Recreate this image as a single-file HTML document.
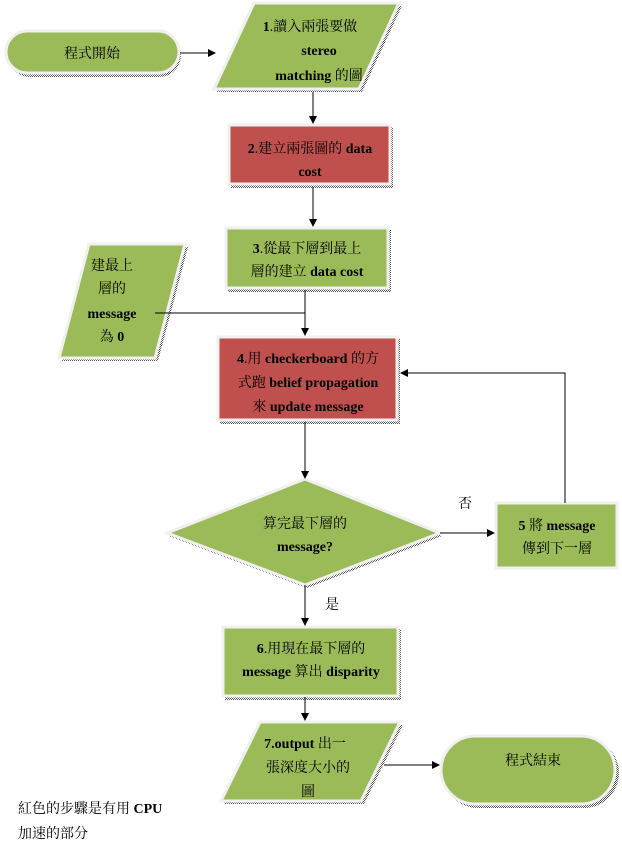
<!DOCTYPE html>
<html><head><meta charset="utf-8"><style>
body{margin:0;background:#fff;width:622px;height:859px;overflow:hidden}
svg{display:block}
text{font-family:"Liberation Serif","Noto Serif CJK SC","Noto Sans CJK TC",serif;font-size:14px;fill:#000;text-anchor:middle}
.b{font-weight:bold}
</style></head><body>
<svg width="622" height="859" viewBox="0 0 622 859" xmlns="http://www.w3.org/2000/svg">
<defs>
<pattern id="dp" width="2" height="2" patternUnits="userSpaceOnUse"><rect width="1" height="1" fill="#555"/><rect x="1" y="1" width="1" height="1" fill="#555"/></pattern>
<marker id="ar" markerWidth="8" markerHeight="8" refX="7" refY="4" orient="auto" markerUnits="userSpaceOnUse"><path d="M0,0 L8,4 L0,8 z" fill="#000"/></marker>
</defs>
<g stroke="#f0f0f0" stroke-width="3">
<!-- shadows -->
<rect x="8" y="33" width="173" height="44" rx="22" fill="url(#dp)" stroke="none"/>
<rect x="6" y="31" width="173" height="42" rx="21" fill="#9bbb59"/>
<polygon points="257,6 402,6 362,92 217,92" fill="url(#dp)" stroke="none"/>
<polygon points="254,3 399,3 359,89 214,89" fill="#9bbb59"/>
<rect x="231" y="127" width="162" height="61" fill="url(#dp)" stroke="none"/>
<rect x="229" y="125" width="161" height="59" fill="#c0504d"/>
<rect x="228" y="230" width="163" height="62" fill="url(#dp)" stroke="none"/>
<rect x="226" y="228" width="162" height="60" fill="#9bbb59"/>
<polygon points="92,247 188,247 158,361 62,361" fill="url(#dp)" stroke="none"/>
<polygon points="89,244 185,244 155,358 59,358" fill="#9bbb59"/>
<rect x="220" y="339" width="180" height="85" fill="url(#dp)" stroke="none"/>
<rect x="218" y="337" width="179" height="83" fill="#c0504d"/>
<polygon points="307,482 442,536 307,588 169,536" fill="url(#dp)" stroke="none"/>
<polygon points="305,479 440,533 305,585 167,533" fill="#9bbb59"/>
<rect x="496" y="503" width="121" height="65" fill="#9bbb59"/>
<rect x="225" y="629" width="176" height="71" fill="url(#dp)" stroke="none"/>
<rect x="223" y="627" width="175" height="69" fill="#9bbb59"/>
<polygon points="263,725 403,725 364,804 224,804" fill="url(#dp)" stroke="none"/>
<polygon points="260,722 400,722 361,801 221,801" fill="#9bbb59"/>
<rect x="443" y="738" width="176" height="70" rx="35" fill="url(#dp)" stroke="none"/>
<rect x="441" y="736" width="174" height="68" rx="34" fill="#9bbb59"/>
</g>
<g stroke="#000" stroke-width="1" fill="none">
<line x1="180" y1="53" x2="215" y2="53" marker-end="url(#ar)"/>
<line x1="313" y1="92" x2="313" y2="123" marker-end="url(#ar)"/>
<line x1="313" y1="187" x2="313" y2="226" marker-end="url(#ar)"/>
<line x1="305" y1="290" x2="305" y2="335" marker-end="url(#ar)"/>
<line x1="155" y1="313" x2="305" y2="313"/>
<line x1="305" y1="422" x2="305" y2="478" marker-end="url(#ar)"/>
<line x1="440" y1="533" x2="494" y2="533" marker-end="url(#ar)"/>
<polyline points="565,503 565,373 401,373" marker-end="url(#ar)"/>
<line x1="305" y1="585" x2="305" y2="625" marker-end="url(#ar)"/>
<line x1="305" y1="697" x2="305" y2="720" marker-end="url(#ar)"/>
<line x1="384" y1="765" x2="439" y2="765" marker-end="url(#ar)"/>
</g>
<text x="92" y="58">程式開始</text>
<text x="310" y="31"><tspan class="b">1</tspan>.讀入兩張要做</text>
<text x="319" y="55" class="b">stereo</text>
<text x="319" y="80"><tspan class="b">matching</tspan> 的圖</text>
<text x="310" y="153"><tspan class="b">2</tspan>.建立兩張圖的 <tspan class="b">data</tspan></text>
<text x="310" y="176" class="b">cost</text>
<text x="307" y="253"><tspan class="b">3</tspan>.從最下層到最上</text>
<text x="307" y="276">層的建立 <tspan class="b">data cost</tspan></text>
<text x="112" y="270">建最上</text>
<text x="112" y="293">層的</text>
<text x="112" y="318" class="b">message</text>
<text x="112" y="341">為 <tspan class="b">0</tspan></text>
<text x="308" y="363"><tspan class="b">4</tspan>.用 <tspan class="b">checkerboard</tspan> 的方</text>
<text x="308" y="387">式跑 <tspan class="b">belief propagation</tspan></text>
<text x="308" y="411">來 <tspan class="b">update message</tspan></text>
<text x="305" y="528">算完最下層的</text>
<text x="305" y="551" class="b">message?</text>
<text x="465" y="508">否</text>
<text x="557" y="530"><tspan class="b">5</tspan> 將 <tspan class="b">message</tspan></text>
<text x="557" y="553">傳到下一層</text>
<text x="332" y="609">是</text>
<text x="311" y="653"><tspan class="b">6</tspan>.用現在最下層的</text>
<text x="311" y="676"><tspan class="b">message</tspan> 算出 <tspan class="b">disparity</tspan></text>
<text x="305" y="748"><tspan class="b">7.output</tspan> 出一</text>
<text x="308" y="772">張深度大小的</text>
<text x="308" y="796">圖</text>
<text x="533" y="765">程式結束</text>
<text x="18" y="813" style="text-anchor:start">紅色的步驟是有用 <tspan class="b">CPU</tspan></text>
<text x="18" y="838" style="text-anchor:start">加速的部分</text>
</svg>
</body></html>
